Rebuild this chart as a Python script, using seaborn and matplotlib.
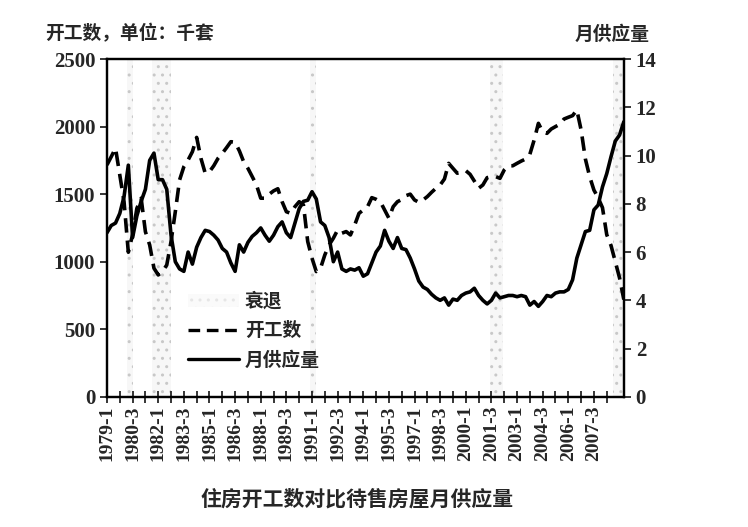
import numpy as np
import pandas as pd
import seaborn as sns
import matplotlib
matplotlib.use("Agg")
import matplotlib.pyplot as plt
from matplotlib.patches import Patch
from matplotlib.lines import Line2D

# quarterly, 1979-Q1 .. 2009-Q2
starts = [1716, 1777, 1840, 1642, 1444, 1070, 1200, 1395, 1470, 1222,
          1124, 952, 902, 927, 976, 1149, 1370, 1605, 1703, 1753,
          1814, 1920, 1765, 1655, 1666, 1710, 1765, 1802, 1844, 1888,
          1884, 1820, 1740, 1691, 1630, 1568, 1470, 1470, 1500, 1524,
          1540, 1444, 1370, 1358, 1407, 1444, 1420, 1149, 1026, 927,
          952, 1050, 1124, 1174, 1235, 1211, 1223, 1198, 1272, 1358,
          1383, 1407, 1474, 1462, 1444, 1383, 1322, 1407, 1444, 1460,
          1489, 1500, 1457, 1440, 1457, 1482, 1514, 1543, 1568, 1612,
          1728, 1691, 1655, 1662, 1674, 1647, 1597, 1543, 1568, 1622,
          1630, 1630, 1617, 1679, 1710, 1710, 1728, 1745, 1760, 1795,
          1900, 2024, 1962, 1950, 1982, 2000, 2017, 2056, 2069, 2081,
          2123, 1975, 1760, 1630, 1530, 1472, 1400, 1200, 1120, 1000,
          880, 720]
supply = [6.8, 7.1, 7.2, 7.6, 8.3, 9.6, 6.6, 7.5, 8.1, 8.6,
          9.8, 10.1, 9.0, 9.0, 8.6, 6.7, 5.6, 5.3, 5.2, 6.0,
          5.5, 6.2, 6.6, 6.9, 6.85, 6.7, 6.5, 6.15, 6.0, 5.55,
          5.2, 6.3, 6.0, 6.4, 6.65, 6.8, 7.0, 6.7, 6.45, 6.7,
          7.05, 7.25, 6.8, 6.6, 7.2, 7.8, 8.1, 8.15, 8.5, 8.2,
          7.25, 7.1, 6.6, 5.6, 6.0, 5.3, 5.2, 5.3, 5.25, 5.35,
          5.0, 5.1, 5.55, 6.0, 6.25, 6.9, 6.45, 6.15, 6.6, 6.15,
          6.1, 5.75, 5.3, 4.8, 4.55, 4.45, 4.25, 4.1, 4.0, 4.1,
          3.8, 4.05, 4.0, 4.2, 4.3, 4.35, 4.5, 4.2, 4.0, 3.85,
          4.0, 4.3, 4.1, 4.15, 4.2, 4.2, 4.15, 4.2, 4.15, 3.8,
          3.95, 3.75, 3.95, 4.2, 4.15, 4.3, 4.35, 4.35, 4.45, 4.85,
          5.75, 6.3, 6.85, 6.9, 7.75, 7.95, 8.7, 9.25, 9.95, 10.6,
          10.85, 11.4]
recessions = [(4.6, 6.2), (10.5, 15.1), (47.5, 49.0), (89.6, 92.7), (118.5, 121.0)]

labels = [f"{1979 + i // 4}-{i % 4 + 1}" for i in range(len(starts))]
df = pd.DataFrame({"t": np.arange(len(starts)), "starts": starts, "supply": supply})

sns.set_style("white")
serif = ["Liberation Serif", "DejaVu Serif"]
cjk = ["Noto Sans CJK SC", "DejaVu Sans"]

fig = plt.figure(figsize=(7.48, 5.27), dpi=100)
ax = fig.add_axes([0.143, 0.247, 0.691, 0.641])
ax2 = ax.twinx()

for a, b in recessions:
    ax.axvspan(a, b, facecolor="#f7f7f7", edgecolor="#c8c8c8", hatch="..", linewidth=0, zorder=0)

sns.lineplot(data=df, x="t", y="starts", ax=ax, color="black", linewidth=2.6,
             linestyle=(0, (4, 2.2)))
sns.lineplot(data=df, x="t", y="supply", ax=ax2, color="black", linewidth=2.6)

ax.set_xlim(0, 121)
ax.set_ylim(0, 2500)
ax2.set_ylim(0, 14)
ax.set_yticks(range(0, 2501, 500))
ax2.set_yticks(range(0, 15, 2))
ax.set_xticks(df["t"][:115:6])
ax.set_xticklabels(labels[:115:6], rotation=90)
ax.set_xticks(np.arange(3, 121, 6), minor=True)
ax.set_xlabel("")
ax.set_ylabel("")
ax2.set_ylabel("")

for a in (ax, ax2):
    for s in a.spines.values():
        s.set_color("black")
        s.set_linewidth(1.6)
ax.tick_params(axis="x", which="both", direction="inout", length=8, width=1.3, bottom=True, pad=2)
ax.tick_params(axis="y", direction="out", length=5, width=1.3, left=True)
ax2.tick_params(axis="y", direction="out", length=5, width=1.3, right=True)
for lab in ax.get_xticklabels():
    lab.set_fontfamily(serif)
    lab.set_fontweight("bold")
    lab.set_fontsize(14)
for lab in ax.get_yticklabels() + ax2.get_yticklabels():
    lab.set_fontfamily(serif)
    lab.set_fontweight("bold")
    lab.set_fontsize(15)

fig.text(0.06, 0.925, "开工数，单位：千套", family=cjk, fontsize=13.5, fontweight="bold")
fig.text(0.768, 0.925, "月供应量", family=cjk, fontsize=13.5, fontweight="bold")
fig.text(0.477, 0.04, "住房开工数对比待售房屋月供应量", family=cjk, fontsize=15,
         fontweight="bold", ha="center")

handles = [Patch(facecolor="#fafafa", edgecolor="#e6e6e6", hatch="..", linewidth=0),
           Line2D([], [], color="black", linewidth=2.4, linestyle=(0, (3.5, 2))),
           Line2D([], [], color="black", linewidth=2.4)]
leg = ax.legend(handles, ["衰退", "开工数", "月供应量"], loc="upper left",
                bbox_to_anchor=(0.125, 0.36), frameon=False, handlelength=2.7,
                handletextpad=0.3, labelspacing=0.55,
                prop={"family": cjk, "size": 13.5, "weight": "bold"})

fig.savefig("out.png", dpi=100)
